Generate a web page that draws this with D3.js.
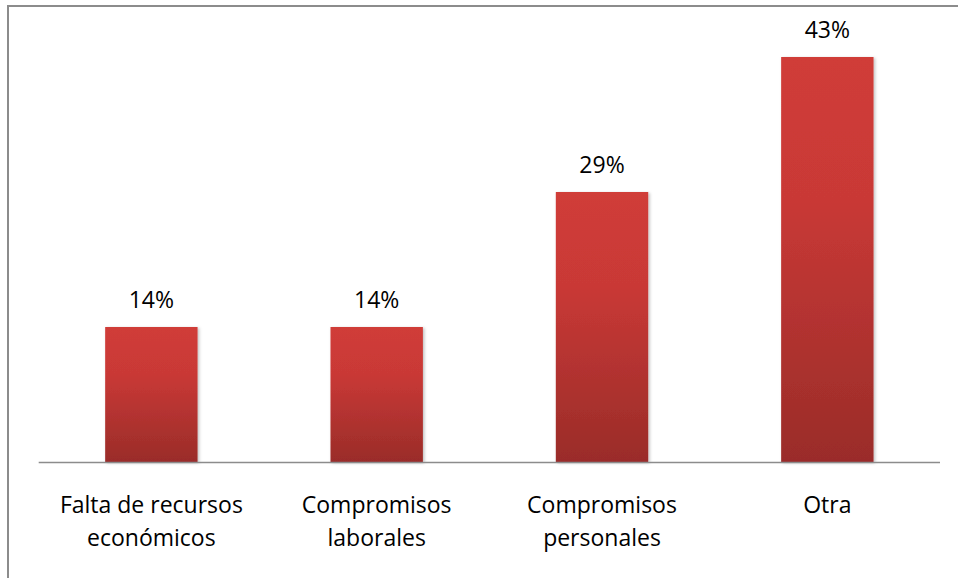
<!DOCTYPE html>
<html><head><meta charset="utf-8">
<script src="https://cdn.jsdelivr.net/npm/d3@7"></script>
<style>body{margin:0;background:#fff}svg{display:block}</style>
</head><body>
<svg id="c" width="958" height="578"></svg>
<script>
const categories = [["Falta de recursos","económicos"],["Compromisos","laborales"],["Compromisos","personales"],["Otra"]];
const values = [1/7, 1/7, 2/7, 3/7];
const valueLabels = ["14%","14%","29%","43%"];

const svg = d3.select("#c");
const W = 958, H = 578;
const font = "'Open Sans', 'Noto Sans', sans-serif";

// frame (only top and left visible)
svg.append("rect").attr("x",8).attr("y",6).attr("width",W).attr("height",H)
  .attr("fill","#fff").attr("stroke","#8c8c8c").attr("stroke-width",2);

const x0 = 38.7, x1 = 940, yBase = 462;
const x = d3.scaleBand().domain(d3.range(categories.length)).range([x0,x1])
  .paddingInner(0.59).paddingOuter(0.295);
const y = d3.scaleLinear().domain([0, 0.5]).range([yBase, yBase - 0.5*945]);

const defs = svg.append("defs");
const g = defs.append("linearGradient").attr("id","barg").attr("x1",0).attr("y1",0).attr("x2",0).attr("y2",1);
g.append("stop").attr("offset","0%").attr("stop-color","#d03c38");
g.append("stop").attr("offset","35%").attr("stop-color","#c93936");
g.append("stop").attr("offset","100%").attr("stop-color","#9a2c29");
const f = defs.append("filter").attr("id","sh").attr("x","-10%").attr("y","-10%").attr("width","130%").attr("height","130%");
f.append("feDropShadow").attr("dx",1.5).attr("dy",1).attr("stdDeviation",1.5).attr("flood-color","#000").attr("flood-opacity",0.25);

svg.selectAll("rect.bar").data(values).join("rect").attr("class","bar")
  .attr("x",(d,i)=>x(i)).attr("width",x.bandwidth())
  .attr("y",d=>y(d)).attr("height",d=>yBase-y(d))
  .attr("fill","url(#barg)").attr("filter","url(#sh)");

svg.append("line").attr("x1",x0).attr("x2",x1).attr("y1",yBase+0.5).attr("y2",yBase+0.5)
  .attr("stroke","#8c8c8c").attr("stroke-width",1.5);

svg.selectAll("text.val").data(values).join("text").attr("class","val")
  .attr("x",(d,i)=>x(i)+x.bandwidth()/2).attr("y",d=>y(d)-19)
  .attr("text-anchor","middle")
  .attr("font-family",font).attr("font-size",23).attr("fill","#000")
  .text((d,i)=>valueLabels[i]);

const cl = svg.selectAll("text.cat").data(categories).join("text").attr("class","cat")
  .attr("text-anchor","middle").attr("font-family",font).attr("font-size",23).attr("fill","#000");
cl.each(function(lines,i){
  const t = d3.select(this);
  lines.forEach((s,k)=>{
    t.append("tspan").attr("x",x(i)+x.bandwidth()/2).attr("y",513+k*33).text(s);
  });
});
</script>
</body></html>
